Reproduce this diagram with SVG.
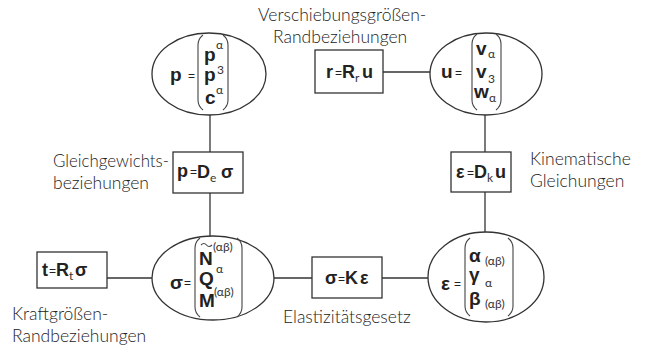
<svg xmlns="http://www.w3.org/2000/svg" width="645" height="356" viewBox="0 0 645 356">
<style>
.sh{fill:#fff;stroke:#333;stroke-width:1.3}
.ln{fill:none;stroke:#333;stroke-width:1.3}
.br{fill:none;stroke:#444;stroke-width:1.1}
.lb{font-family:Lato,"Liberation Sans",sans-serif;font-weight:300;font-size:17.5px;fill:#222}
.m{font-family:"Liberation Sans",Arial,sans-serif;font-weight:bold;font-size:19px;fill:#222}
.b{font-family:"Liberation Sans",Arial,sans-serif;font-weight:bold;font-size:18px;fill:#222}
.eq{font-family:"Liberation Sans",Arial,sans-serif;font-size:12px;fill:#222}
.s{font-family:Lato,"Liberation Sans",sans-serif;font-weight:400;font-size:12px;fill:#333}
</style>
<rect width="645" height="356" fill="#fff"/>
<g id="connectors">
<line class="ln" x1="210" y1="115" x2="210" y2="152"/>
<line class="ln" x1="210" y1="193" x2="210" y2="237"/>
<line class="ln" x1="383" y1="72" x2="430" y2="72"/>
<line class="ln" x1="485" y1="115" x2="485" y2="152"/>
<line class="ln" x1="485" y1="192" x2="485" y2="233"/>
<line class="ln" x1="107" y1="278" x2="152" y2="278"/>
<line class="ln" x1="274" y1="278" x2="312" y2="278"/>
<line class="ln" x1="382" y1="278" x2="428" y2="278"/>
</g>
<g id="node-p">
<ellipse class="sh" cx="209" cy="74" rx="57" ry="41"/>
<text class="m" x="170" y="81">p</text><text class="eq" x="188" y="80">=</text>
<path class="br" d="M203,35 Q198,39 198,45 V100 Q198,106 203,110"/>
<path class="br" d="M223,35 Q228,39 228,45 V100 Q228,106 223,110"/>
<text class="m" x="204" y="61">p</text><text class="s" x="216" y="49">α</text>
<text class="m" x="204" y="81">p</text><text class="s" x="217" y="74">3</text>
<text class="m" x="205" y="104">c</text><text class="s" x="216" y="94">α</text>
</g>
<g id="node-u">
<ellipse class="sh" cx="486" cy="74" rx="56" ry="41"/>
<text class="m" x="441" y="78">u</text><text class="eq" x="455" y="77">=</text>
<path class="br" d="M477,34 Q472,38 472,44 V100 Q472,106 477,110"/>
<path class="br" d="M496,34 Q501,38 501,44 V100 Q501,106 496,110"/>
<text class="m" x="476" y="55">v</text><text class="s" x="488" y="58">α</text>
<text class="m" x="476" y="78">v</text><text class="s" x="488" y="83">3</text>
<text class="m" x="474" y="98">w</text><text class="s" x="489" y="102">α</text>
</g>
<g id="node-sigma">
<ellipse class="sh" cx="213" cy="278" rx="61" ry="42"/>
<text class="m" x="170" y="289">σ</text><text class="eq" x="184" y="287">=</text>
<path class="br" d="M200,238 Q195,242 195,248 V307 Q195,313 200,317"/>
<path class="br" d="M237,238 Q242,242 242,248 V307 Q242,313 237,317"/>
<text class="m" x="199" y="265">N</text><path class="br" d="M201,245 q3,-3 5.5,0 t5.5,0"/><text class="s" x="213" y="251">(αβ)</text>
<text class="m" x="199" y="285">Q</text><text class="s" x="216" y="273">α</text>
<text class="m" x="199" y="307">M</text><text class="s" x="214" y="296">(αβ)</text>
</g>
<g id="node-eps">
<ellipse class="sh" cx="486" cy="277" rx="58" ry="45"/>
<text class="m" x="441" y="290">ε</text><text class="eq" x="454" y="288">=</text>
<path class="br" d="M470,238 Q465,242 465,248 V306 Q465,312 470,316"/>
<path class="br" d="M508,238 Q513,242 513,248 V306 Q513,312 508,316"/>
<text class="m" x="469" y="262">α</text><text class="s" x="485" y="265">(αβ)</text>
<text class="m" x="469" y="281">γ</text><text class="s" x="485" y="287">α</text>
<text class="m" x="469" y="305">β</text><text class="s" x="485" y="308">(αβ)</text>
</g>
<g id="box-De">
<rect class="sh" x="173" y="152" width="70" height="41"/>
<text class="b" x="177" y="177">p</text><text class="eq" x="190" y="176">=</text>
<text class="b" x="197" y="178">D</text><text class="s" x="210" y="182">e</text>
<text class="b" x="221" y="178">σ</text>
</g>
<g id="box-Dk">
<rect class="sh" x="451" y="152" width="60" height="40"/>
<text class="b" x="456" y="178">ε</text><text class="eq" x="467" y="177">=</text>
<text class="b" x="474" y="178">D</text><text class="s" x="487" y="182">k</text>
<text class="b" x="495" y="178">u</text>
</g>
<g id="box-Rr">
<rect class="sh" x="315" y="50" width="68" height="43"/>
<text class="b" x="326" y="78">r</text><text class="eq" x="335" y="77">=</text>
<text class="b" x="342" y="78">R</text><text class="s" x="355" y="82">r</text>
<text class="b" x="362" y="78">u</text>
</g>
<g id="box-Rt">
<rect class="sh" x="37" y="252" width="70" height="36"/>
<text class="b" x="42" y="276">t</text><text class="eq" x="49" y="275">=</text>
<text class="b" x="56" y="276">R</text><text class="s" x="69" y="280">t</text>
<text class="b" x="75" y="276">σ</text>
</g>
<g id="box-K">
<rect class="sh" x="312" y="257" width="70" height="41"/>
<text class="b" x="325" y="284">σ</text><text class="eq" x="338" y="283">=</text>
<text class="b" x="345" y="284">K</text>
<text class="b" x="360" y="284">ε</text>
</g>
<g id="labels">
<text class="lb" x="258" y="21">Verschiebungsgrößen-</text>
<text class="lb" x="273" y="43">Randbeziehungen</text>
<text class="lb" x="53" y="167" textLength="116" lengthAdjust="spacingAndGlyphs">Gleichgewichts-</text>
<text class="lb" x="53" y="189">beziehungen</text>
<text class="lb" x="530" y="165">Kinematische</text>
<text class="lb" x="530" y="187">Gleichungen</text>
<text class="lb" x="12" y="320">Kraftgrößen-</text>
<text class="lb" x="12" y="342">Randbeziehungen</text>
<text class="lb" x="283" y="323">Elastizitätsgesetz</text>
</g>
</svg>
